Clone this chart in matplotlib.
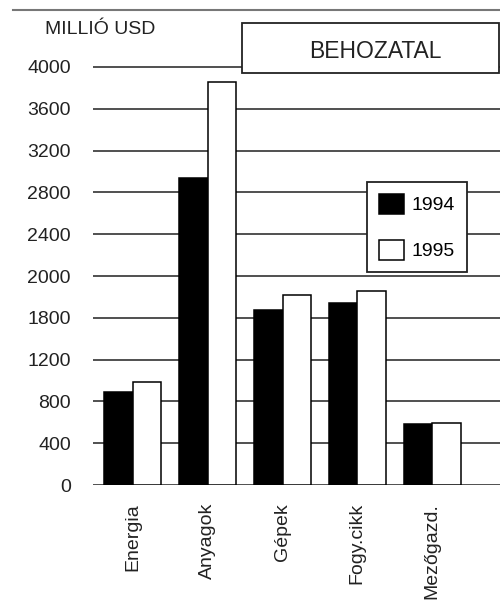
import matplotlib.pyplot as plt
import numpy as np
from matplotlib.patches import Rectangle
from matplotlib.lines import Line2D

# Import values, million USD
categories = ['Energia', 'Anyagok', 'Gépek', 'Fogy.cikk', 'Mezőgazd.']
imp_1994 = [890, 2935, 1675, 1745, 581]
imp_1995 = [990, 3856, 1818, 1856, 590]
years = ['1994', '1995']
tick_values = [0, 400, 800, 1200, 1600, 2000, 2400, 2800, 3200, 3600, 4000]
tick_labels = ['0', '400', '800', '1200', '1800', '2000', '2400', '2800', '3200', '3600', '4000']

plt.rcParams['font.family'] = ['Liberation Sans', 'DejaVu Sans']
plt.rcParams['font.size'] = 14

fig = plt.figure(figsize=(5, 6.04), dpi=100)
ax = fig.add_axes([0.186, 0.197, 0.814, 0.7613])

x = np.arange(len(categories))
w = 0.38
ax.bar(x - w / 2, imp_1994, w, color='black', edgecolor='black', linewidth=1.1,
       label=years[0], zorder=3)
ax.bar(x + w / 2, imp_1995, w, color='white', edgecolor='black', linewidth=1.1,
       label=years[1], zorder=3)

ax.set_xlim(-0.533, 4.907)
ax.set_ylim(0, 4400)
ax.set_yticks(tick_values)
ax.set_yticklabels(tick_labels, color='#222222')
ax.set_xticks(x)
ax.set_xticklabels(categories, rotation=90, color='#222222')
ax.tick_params(axis='y', length=0, pad=16)
ax.tick_params(axis='x', length=0, pad=13)
for v in tick_values:
    ax.axhline(v, color='#505050', linewidth=1.4, zorder=1)
for s in ax.spines.values():
    s.set_visible(False)

leg = ax.legend(loc='upper left', bbox_to_anchor=(367 / 500, 1 - 182 / 604),
                bbox_transform=fig.transFigure, borderaxespad=0,
                fancybox=False, framealpha=1, edgecolor='#222222',
                handlelength=1.29, handleheight=1.23, labelspacing=1.3,
                handletextpad=0.4, borderpad=0.6)
leg.get_frame().set_linewidth(1.3)

# rule across the top and the title box
fig.add_artist(Line2D([13 / 500, 1], [1 - 10 / 604] * 2, color='#777777', linewidth=1.5))
fig.add_artist(Rectangle((242 / 500, 1 - 73 / 604), 257 / 500, 50 / 604,
                         facecolor='white', edgecolor='#222222', linewidth=1.3,
                         transform=fig.transFigure, zorder=5))
fig.text(375 / 500, 1 - 52 / 604, 'BEHOZATAL', ha='center', va='center',
         fontsize=16.5, color='#222222', zorder=6)
fig.text(45 / 500, 1 - 30 / 604, 'MILLIÓ USD', ha='left', va='center',
         fontsize=14, color='#222222')

fig.savefig('out.png', dpi=100)
